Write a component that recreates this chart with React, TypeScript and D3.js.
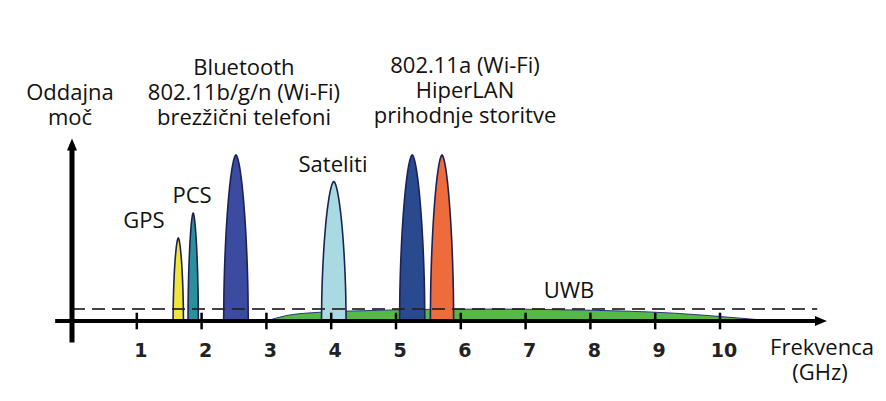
import React from "react";
import * as d3 from "d3";

const W = 886;
const H = 401;

const bandNames = ["GPS", "PCS", "Bluetooth", "Sateliti", "802.11a", "HiperLAN"];
const bandCenters = [1.64, 1.87, 2.53, 4.04, 5.25, 5.71];
const bandWidths = [0.16, 0.16, 0.38, 0.38, 0.39, 0.36];
const bandPowers = [5.0, 6.5, 10, 8.4, 10, 10];
const bandColors = ["#f0e53a", "#2c8f9c", "#3a4ba0", "#a9d9e1", "#2a4a90", "#ee6c3c"];

const uwbFreq = [3, 3.3, 3.8, 4.5, 5.5, 6.5, 7.5, 8.5, 9.3, 10, 10.5, 10.85];
const uwbPower = [0, 0.32, 0.52, 0.62, 0.7, 0.72, 0.68, 0.6, 0.47, 0.27, 0.11, 0];
const threshold = 0.72;

const tickValues = [1, 2, 3, 4, 5, 6, 7, 8, 9, 10];

const FONT = "'Open Sans', 'Noto Sans', sans-serif";

export default function App() {
  const x = d3.scaleLinear().domain([0, 10]).range([72, 720]);
  const y = d3.scaleLinear().domain([0, 10]).range([321, 155]);

  const area = d3
    .area<[number, number]>()
    .x((d) => x(d[0]))
    .y0(y(0))
    .y1((d) => y(d[1]));

  const us = d3.range(-1, 1.0001, 0.025);
  const bellPaths = bandCenters.map((c, i) => {
    const pts: [number, number][] = us.map((u) => [
      c + (u * bandWidths[i]) / 2,
      bandPowers[i] * Math.pow(Math.max(0, 1 - Math.pow(Math.abs(u), 1.7)), 0.55),
    ]);
    return area(pts) as string;
  });

  const uwbPts: [number, number][] = uwbFreq.map((f, i) => [f, uwbPower[i]]);
  const uwbArea = d3
    .area<[number, number]>()
    .x((d) => x(d[0]))
    .y0(y(0))
    .y1((d) => y(d[1]))
    .curve(d3.curveMonotoneX)(uwbPts) as string;

  const axisY = y(0);
  const xStart = x(-0.26);
  const xEnd = x(11.65);
  const yTop = y(11);
  const yBottom = y(-1.3);

  const textStyle = { fontFamily: FONT, fontSize: 22, fill: "#111" } as const;

  return (
    <svg
      width={W}
      height={H}
      style={{ position: "absolute", left: 0, top: 0, background: "#fff" }}
    >
      {/* UWB */}
      <path d={uwbArea} fill="#55b947" stroke="#2a3580" strokeWidth={1} />

      {/* bells */}
      {bellPaths.map((p, i) => (
        <path
          key={bandNames[i]}
          d={p}
          fill={bandColors[i]}
          stroke="#1c2255"
          strokeWidth={1.6}
        />
      ))}

      {/* threshold dashed line */}
      <line
        x1={x(0)}
        x2={x(11.5)}
        y1={y(threshold)}
        y2={y(threshold)}
        stroke="#222"
        strokeOpacity={0.85}
        strokeWidth={2}
        strokeDasharray="13 7"
      />

      {/* axes */}
      <line x1={xStart} x2={xEnd - 6} y1={axisY} y2={axisY} stroke="#000" strokeWidth={4} />
      <path
        d={`M${xEnd},${axisY} L${xEnd - 12},${axisY - 5} L${xEnd - 12},${axisY + 5} Z`}
        fill="#000"
      />
      <line x1={x(0)} x2={x(0)} y1={yBottom} y2={yTop + 6} stroke="#000" strokeWidth={5} />
      <path
        d={`M${x(0)},${yTop} L${x(0) - 5},${yTop + 12} L${x(0) + 5},${yTop + 12} Z`}
        fill="#000"
      />

      {/* ticks */}
      {tickValues.map((t) => (
        <g key={t}>
          <line
            x1={x(t)}
            x2={x(t)}
            y1={y(0.5)}
            y2={y(-0.5)}
            stroke="#000"
            strokeWidth={2.5}
          />
          <text
            x={x(t) + 4}
            y={357}
            textAnchor="middle"
            style={{ fontFamily: "'DejaVu Sans', sans-serif", fontWeight: "bold", fontSize: 19, fill: "#222" }}
          >
            {t}
          </text>
        </g>
      ))}

      {/* labels */}
      <text x={70} y={100} textAnchor="middle" style={textStyle}>Oddajna</text>
      <text x={70} y={125} textAnchor="middle" style={textStyle}>moč</text>

      <text x={244} y={75} textAnchor="middle" style={textStyle}>Bluetooth</text>
      <text x={244} y={100} textAnchor="middle" style={textStyle}>802.11b/g/n (Wi-Fi)</text>
      <text x={244} y={125} textAnchor="middle" style={textStyle}>brezžični telefoni</text>

      <text x={465} y={73} textAnchor="middle" style={textStyle}>802.11a (Wi-Fi)</text>
      <text x={465} y={98} textAnchor="middle" style={textStyle}>HiperLAN</text>
      <text x={465} y={123} textAnchor="middle" style={textStyle}>prihodnje storitve</text>

      <text x={144} y={228} textAnchor="middle" style={textStyle}>GPS</text>
      <text x={192} y={203} textAnchor="middle" style={textStyle}>PCS</text>
      <text x={333} y={172} textAnchor="middle" style={textStyle}>Sateliti</text>
      <text x={569} y={298} textAnchor="middle" style={textStyle}>UWB</text>

      <text x={822} y={355} textAnchor="middle" style={textStyle}>Frekvenca</text>
      <text x={820} y={380} textAnchor="middle" style={textStyle}>(GHz)</text>
    </svg>
  );
}
